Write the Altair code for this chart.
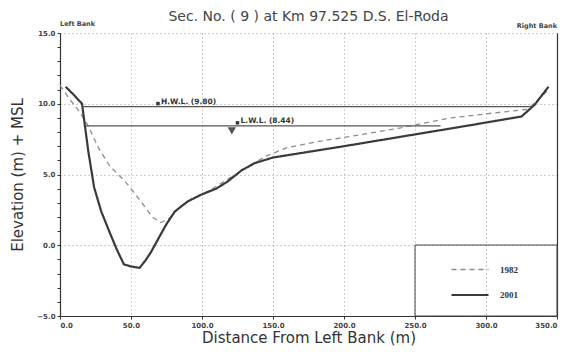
import altair as alt
import pandas as pd

# ---- data ----
x_1982 = [0, 7, 14, 20, 27, 35, 46, 57, 65, 71, 77, 84, 93, 104, 117, 130, 145, 160, 180, 205, 240, 275, 310, 329, 337, 345]
e_1982 = [11.3, 10.3, 9.4, 8.4, 6.9, 5.6, 4.5, 3.1, 2.0, 1.6, 1.9, 2.7, 3.3, 3.8, 4.6, 5.4, 6.3, 6.9, 7.3, 7.7, 8.3, 9.0, 9.4, 9.6, 10.3, 11.1]

x_2001 = [4, 10, 15.5, 18, 20, 24, 29, 35, 40, 45, 50, 56, 60, 64, 70, 75, 81, 90, 100, 110, 118, 128, 137, 150, 175, 200, 230, 260, 290, 325, 334, 344]
e_2001 = [11.2, 10.6, 10.0, 8.1, 6.6, 4.1, 2.4, 0.9, -0.3, -1.35, -1.5, -1.6, -1.1, -0.5, 0.6, 1.5, 2.4, 3.1, 3.6, 4.0, 4.5, 5.3, 5.8, 6.2, 6.6, 7.0, 7.5, 8.0, 8.5, 9.1, 9.9, 11.2]

years = ["1982", "2001"]

wl_name = ["H.W.L. (9.80)", "L.W.L. (8.44)"]
wl_level = [9.80, 8.44]
wl_from = [15.5, 17.5]
wl_to = [333, 268]
wl_mark_x = [69, 125]
lwl_triangle_x = [121]
lwl_triangle_level = [8.44]

bank_names = ["Left Bank", "Right Bank"]
bank_x = [0, 350]
top_elev = [15, 15]

x_ticks = [0, 50, 100, 150, 200, 250, 300, 350]
y_ticks = list(range(-5, 16))

title_text = "Sec. No. ( 9 ) at Km 97.525  D.S. El-Roda"

# ---- tables ----
profiles = pd.DataFrame({
    "dist": x_1982 + x_2001,
    "elev": e_1982 + e_2001,
    "year": [years[0]] * len(x_1982) + [years[1]] * len(x_2001),
    "order": list(range(len(x_1982))) + list(range(len(x_2001))),
})
wl = pd.DataFrame({"name": wl_name, "level": wl_level, "x0": wl_from, "x1": wl_to, "mx": wl_mark_x})
tri = pd.DataFrame({"tx": lwl_triangle_x, "tl": lwl_triangle_level})
banks = pd.DataFrame({"name": bank_names, "bx": bank_x, "by": top_elev})

FONT = "DejaVu Sans"
XS = alt.Scale(domain=[0, 350], nice=False, zero=False)
YS = alt.Scale(domain=[-5, 15], nice=False, zero=False)

x_axis = alt.Axis(
    values=x_ticks, format=".1f", title="Distance From Left Bank (m)",
    grid=True, gridDash=[1, 3], gridColor="#9a9a9a",
    domainColor="#333", domainWidth=1.2, tickColor="#333", tickSize=3,
    labelFont=FONT, labelFontSize=7, labelFontWeight="bold", labelColor="#444",
    labelPadding=2, titleFont=FONT, titleFontSize=15, titleFontWeight="normal",
    titleColor="#333", titlePadding=2,
)
y_axis = alt.Axis(
    values=y_ticks,
    labelExpr="datum.value % 5 === 0 ? format(datum.value, '.1f') : ''",
    gridOpacity={"condition": {"test": "datum.value % 5 === 0", "value": 1}, "value": 0},
    grid=True, gridDash=[1, 3], gridColor="#9a9a9a",
    domainColor="#333", domainWidth=1.2, tickColor="#333", tickSize=3,
    labelFont=FONT, labelFontSize=7, labelFontWeight="bold", labelColor="#444",
    labelPadding=2, title="Elevation (m) + MSL", titleFont=FONT, titleFontSize=15,
    titleFontWeight="normal", titleColor="#333", titlePadding=11,
)

leg = alt.Legend(
    title=None, orient="none", legendX=390, legendY=217,
    symbolType="stroke", symbolSize=1369, rowPadding=-13,
    labelFont="Liberation Serif", labelFontSize=9, labelFontWeight="bold",
    labelColor="#333", labelOffset=10, padding=0,
)

frame = alt.Chart(pd.DataFrame({"k": [0]})).mark_rect(
    fillOpacity=0, stroke="#444", strokeWidth=1
).encode(x=alt.value(355), x2=alt.value(497), y=alt.value(212), y2=alt.value(283))

lines = alt.Chart(profiles).mark_line(interpolate="linear").encode(
    x=alt.X("dist:Q", scale=XS, axis=x_axis),
    y=alt.Y("elev:Q", scale=YS, axis=y_axis),
    color=alt.Color("year:N", scale=alt.Scale(domain=years, range=["#8c8c8c", "#3a3a3a"]), legend=leg),
    strokeDash=alt.StrokeDash("year:N", scale=alt.Scale(domain=years, range=[[5, 4], [1, 0]]), legend=leg),
    strokeWidth=alt.StrokeWidth("year:N", scale=alt.Scale(domain=years, range=[1.3, 2.2]), legend=leg),
    order="order:Q",
)

right_axis = alt.Chart(profiles).mark_line(opacity=0).encode(
    x=alt.X("dist:Q", scale=XS, axis=x_axis),
    y=alt.Y("elev:Q", scale=YS, axis=alt.Axis(orient="right", labels=False, ticks=False,
                                               grid=False, title=None, domainColor="#333",
                                               domainWidth=1.2)),
)

rules = alt.Chart(wl).mark_rule(color="#555", strokeWidth=1.2).encode(
    x=alt.X("x0:Q", scale=XS, axis=x_axis), x2="x1:Q",
    y=alt.Y("level:Q", scale=YS, axis=None),
)
squares = alt.Chart(wl).mark_square(size=12, color="#333", opacity=1, yOffset=-3).encode(
    x=alt.X("mx:Q", scale=XS, axis=x_axis),
    y=alt.Y("level:Q", scale=YS, axis=None),
)
labels = alt.Chart(wl).mark_text(
    align="left", baseline="bottom", dx=3, dy=-1, font=FONT, fontSize=7.5,
    fontWeight="bold", color="#333",
).encode(
    x=alt.X("mx:Q", scale=XS, axis=x_axis),
    y=alt.Y("level:Q", scale=YS, axis=None),
    text="name:N",
)
triangle = alt.Chart(tri).mark_point(shape="triangle-down", filled=True, size=70,
                                     color="#555", opacity=1, yOffset=5).encode(
    x=alt.X("tx:Q", scale=XS, axis=x_axis),
    y=alt.Y("tl:Q", scale=YS, axis=None),
)
left_bank = alt.Chart(banks).transform_filter("datum.bx == 0").mark_text(
    align="left", baseline="bottom", dy=-6, font=FONT, fontSize=6.5, fontWeight="bold", color="#444"
).encode(x=alt.X("bx:Q", scale=XS, axis=x_axis), y=alt.Y("by:Q", scale=YS, axis=None), text="name:N")
right_bank = alt.Chart(banks).transform_filter("datum.bx > 0").mark_text(
    align="right", baseline="bottom", dy=-4, font=FONT, fontSize=6.5, fontWeight="bold", color="#444"
).encode(x=alt.X("bx:Q", scale=XS, axis=x_axis), y=alt.Y("by:Q", scale=YS, axis=None), text="name:N")

chart = alt.layer(
    frame, lines, right_axis, rules, squares, labels, triangle, left_bank, right_bank
).resolve_axis(y="independent").properties(
    width=497, height=283,
    padding={"left": 60, "top": 33, "right": 13, "bottom": 36},
    autosize=alt.AutoSizeParams(type="none"),
    title=alt.TitleParams(title_text, font=FONT, fontSize=14, fontWeight="normal",
                          color="#444", offset=-3, anchor="middle", frame="group"),
    background="white",
).configure_view(stroke=None)

chart.save("out.html", embed_options={"renderer": "svg", "actions": False})
